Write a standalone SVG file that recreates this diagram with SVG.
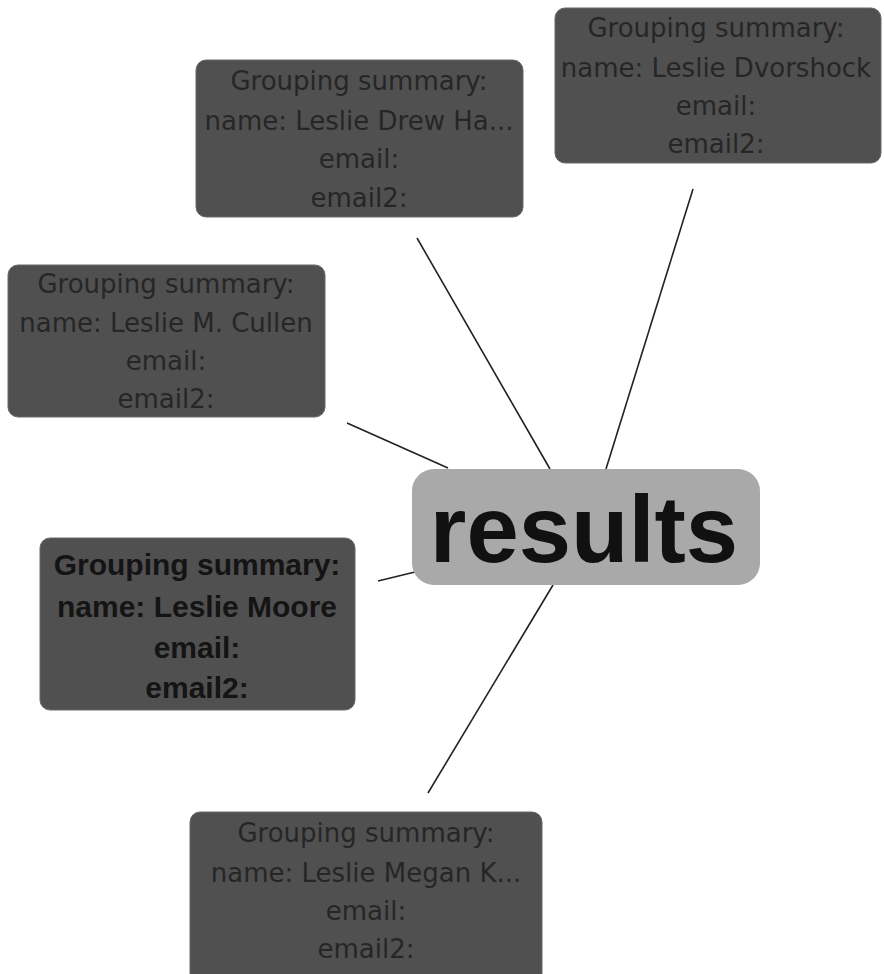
<svg xmlns="http://www.w3.org/2000/svg" width="884" height="974" viewBox="0 0 884 974">
<style>
.box{fill:#505050;stroke:#686868;stroke-width:1}
.t{font-family:"DejaVu Sans",sans-serif;font-size:26px;fill:#262626;text-anchor:middle}
.tb{font-family:"Liberation Sans",Arial,sans-serif;font-weight:bold;font-size:30px;fill:#141414;text-anchor:middle}
.edge{stroke:#222;stroke-width:1.6;fill:none}
</style>
<rect width="884" height="974" fill="#fff"/>
<g id="connectors">
<line class="edge" x1="417" y1="238" x2="550" y2="469"/>
<line class="edge" x1="693" y1="189" x2="606" y2="469"/>
<line class="edge" x1="347" y1="423" x2="448" y2="468"/>
<line class="edge" x1="378" y1="581" x2="415" y2="572"/>
<line class="edge" x1="553" y1="585" x2="428" y2="793"/>
</g>
<g id="results">
<rect x="412" y="469" width="348" height="116" rx="22" fill="#a9a9a9"/>
<text x="584" y="562" font-family="Liberation Sans,Arial,sans-serif" font-weight="bold" font-size="94" fill="#111" text-anchor="middle">results</text>
</g>
<g id="node-drew">
<rect class="box" x="196" y="60" width="327" height="157" rx="10"/>
<text class="t" x="359" y="90">Grouping summary:</text>
<text class="t" x="359" y="130">name: Leslie Drew Ha...</text>
<text class="t" x="359" y="168">email:</text>
<text class="t" x="359" y="207">email2:</text>
</g>
<g id="node-dvorshock">
<rect class="box" x="555" y="8" width="326" height="155" rx="10"/>
<text class="t" x="716" y="37">Grouping summary:</text>
<text class="t" x="716" y="77">name: Leslie Dvorshock</text>
<text class="t" x="716" y="115">email:</text>
<text class="t" x="716" y="153">email2:</text>
</g>
<g id="node-cullen">
<rect class="box" x="8" y="265" width="317" height="152" rx="10"/>
<text class="t" x="166" y="293">Grouping summary:</text>
<text class="t" x="166" y="332">name: Leslie M. Cullen</text>
<text class="t" x="166" y="370">email:</text>
<text class="t" x="166" y="408">email2:</text>
</g>
<g id="node-moore">
<rect class="box" x="40" y="538" width="315" height="172" rx="10"/>
<text class="tb" x="197" y="575">Grouping summary:</text>
<text class="tb" x="197" y="617">name: Leslie Moore</text>
<text class="tb" x="197" y="658">email:</text>
<text class="tb" x="197" y="698">email2:</text>
</g>
<g id="node-megan">
<rect class="box" x="190" y="812" width="352" height="175" rx="10"/>
<text class="t" x="366" y="842">Grouping summary:</text>
<text class="t" x="366" y="882">name: Leslie Megan K...</text>
<text class="t" x="366" y="920">email:</text>
<text class="t" x="366" y="958">email2:</text>
</g>
</svg>
